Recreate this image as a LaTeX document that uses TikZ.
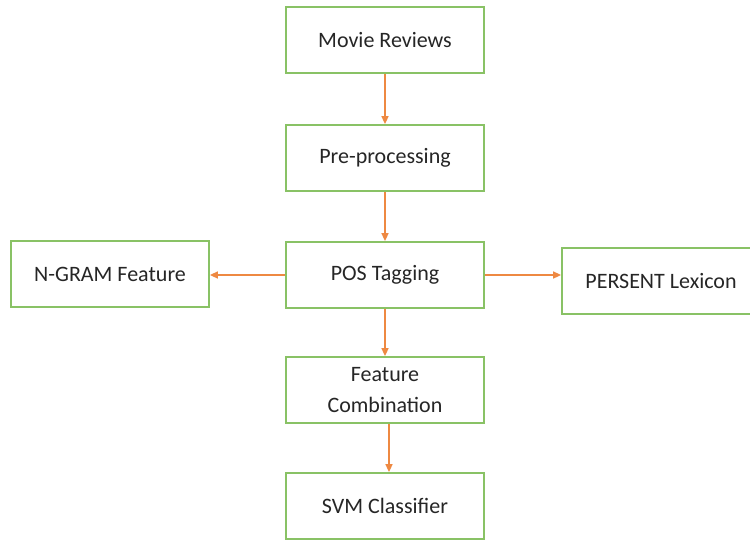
\documentclass[tikz,border=0pt]{standalone}
\usepackage{fontspec}
\setmainfont{Carlito}
\usepackage{tikz}
\usepackage{xcolor}
\usetikzlibrary{arrows.meta,positioning}
\definecolor{boxgreen}{RGB}{137,194,101}
\definecolor{flowarrow}{RGB}{238,137,66}

\begin{document}
\begin{tikzpicture}[x=1pt, y=-1pt, >={Triangle[length=8pt,width=7pt]},
    stage/.style={draw=boxgreen, line width=1.8pt, fill=white,
      minimum width=198pt, minimum height=66pt, align=center,
      font=\fontsize{22}{31}\selectfont, text=black!85},
    flow/.style={->, draw=flowarrow, fill=flowarrow, line width=1.6pt}]
      \useasboundingbox (0,0) rectangle (750,539);
      % main pipeline
      \node[stage] (reviews) at (385,40) {Movie Reviews};
      \node[stage] (prep) at (385,158) {Pre-processing};
      \node[stage] (pos) at (385,275) {POS Tagging};
      \node[stage] (combo) at (385,390) {Feature\\Combination};
      \node[stage] (svm) at (385,506) {SVM Classifier};
      % side branches
      \node[stage] (ngram) at (110,274) {N-GRAM Feature};
      \node[stage] (persent) at (661,281) {PERSENT Lexicon};
      \draw[flow] (reviews) -- (prep);
      \draw[flow] (prep) -- (pos);
      \draw[flow] (pos) -- (combo);
      \draw[flow] ([xshift=4pt]combo.south) -- ([xshift=4pt]svm.north);
      \draw[flow] (pos.west) -- (pos.west -| ngram.east);
      \draw[flow] (pos.east) -- (pos.east -| persent.west);
    \end{tikzpicture}
\end{document}
